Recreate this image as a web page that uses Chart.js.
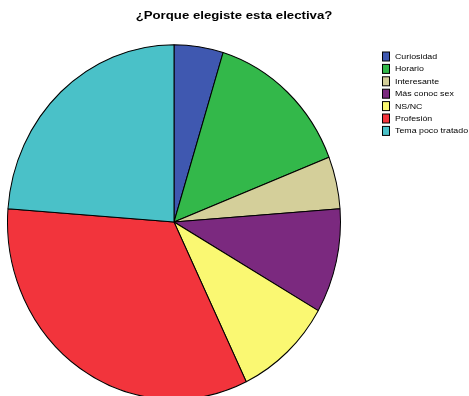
<!DOCTYPE html>
<html lang="es">
<head>
<meta charset="UTF-8">
<title>¿Porque elegiste esta electiva?</title>
<style>
  html,body{margin:0;padding:0;background:#fff}
  #wrap{width:469px;height:396px;position:relative}
</style>
</head>
<body>
<div id="wrap"><canvas id="grafico"></canvas></div>

<script src="https://cdn.jsdelivr.net/npm/chart.js@4.4.0/dist/chart.umd.min.js"></script>
<script>
/* ---------- Datos ---------- */
const titulo    = '¿Porque elegiste esta electiva?';
const motivos   = ['Curiosidad','Horario','Interesante','Más conoc sex','NS/NC','Profesión','Tema poco tratado'];
const respuestas = [1, 3, 1, 2, 2, 7, 5];
const colores   = ['#3f58b0','#33b84a','#d4cf9a','#7b297f','#faf872','#f2343c','#4ac1c8'];

/* ---------- Estilo ---------- */
const FUENTE  = '"Liberation Sans", Arial, sans-serif';
const ESTIRAR = 1.065;     // la torta se ve algo alargada en vertical

// texto con ancho estirado (las etiquetas salen más anchas que la fuente)
function textoAncho(ctx, txt, x, y, escala){
  ctx.save();
  ctx.translate(x, y);
  ctx.scale(escala, 1);
  ctx.fillText(txt, 0, 0);
  ctx.restore();
}

/* ---------- Plugin: estirar la torta ---------- */
const estirarTorta = {
  id:'estirarTorta',
  beforeDatasetsDraw(chart){
    const arc = chart.getDatasetMeta(0).data[0];
    const ctx = chart.ctx;
    ctx.save();
    ctx.translate(arc.x, arc.y);
    ctx.scale(1, ESTIRAR);
    ctx.translate(-arc.x, -arc.y);
  },
  afterDatasetsDraw(chart){ chart.ctx.restore(); }
};

/* ---------- Plugin: título y leyenda ---------- */
const rotulos = {
  id:'rotulos',
  afterDraw(chart){
    const ctx = chart.ctx;
    ctx.save();
    ctx.fillStyle = '#000';
    ctx.textBaseline = 'alphabetic';

    // título
    ctx.font = 'bold 10px ' + FUENTE;
    const w = ctx.measureText(titulo).width * 1.32;
    textoAncho(ctx, titulo, 234 - w/2, 19, 1.32);

    // leyenda
    ctx.font = '7px ' + FUENTE;
    ctx.lineWidth = 1;
    ctx.strokeStyle = '#000';
    motivos.forEach((m, i) => {
      const cy = 56.5 + i*12.4;
      ctx.fillStyle = colores[i];
      ctx.fillRect(382.5, cy-4.5, 7, 9);
      ctx.strokeRect(382.5, cy-4.5, 7, 9);
      ctx.fillStyle = '#000';
      textoAncho(ctx, m, 395, cy+2.5, 1.26);
    });
    ctx.restore();
  }
};

/* ---------- Gráfico ---------- */
new Chart(document.getElementById('grafico'), {
  type:'pie',
  data:{
    labels: motivos,
    datasets:[{
      data: respuestas,
      backgroundColor: colores,
      borderColor:'#000',
      borderWidth:1,
      hoverOffset:0
    }]
  },
  options:{
    responsive:true,
    maintainAspectRatio:false,
    animation:false,
    events:[],
    layout:{padding:{left:7, right:128, top:55, bottom:7}},
    plugins:{
      legend:{display:false},
      title:{display:false},
      tooltip:{enabled:false}
    }
  },
  plugins:[estirarTorta, rotulos]
});
</script>
</body>
</html>
